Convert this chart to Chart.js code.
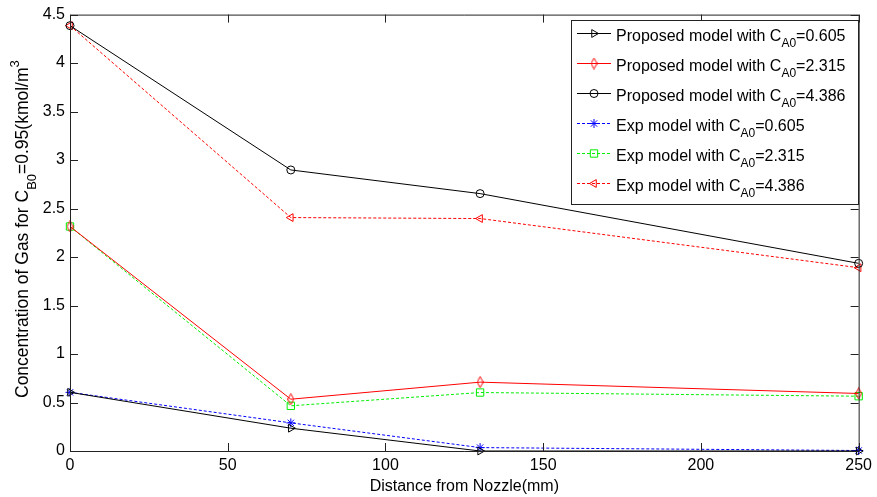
<!DOCTYPE html>
<html>
<head>
<meta charset="utf-8">
<title>Concentration of gas vs distance from nozzle</title>
<script src="https://cdn.jsdelivr.net/npm/chart.js@4.4.1/dist/chart.umd.min.js"></script>
<style>
  html, body { margin: 0; padding: 0; background: #fff; }
  #wrap { width: 877px; height: 497px; }
</style>
</head>
<body>
<div id="wrap"><canvas id="chart" width="877" height="497"></canvas></div>
<script>
// x positions (mm) and read-off concentrations per series
const distances = [0, 70, 130, 250];
const propLow = [0.605, 0.235, 0, 0];
const propMid = [2.315, 0.534, 0.71, 0.593];
const propHigh = [4.386, 2.898, 2.654, 1.935];
const expLow = [0.605, 0.29, 0.035, 0.005];
const expMid = [2.315, 0.466, 0.603, 0.565];
const expHigh = [4.386, 2.407, 2.397, 1.89];

const seriesLabels = [
    'Proposed model with C_{A0}=0.605',
    'Proposed model with C_{A0}=2.315',
    'Proposed model with C_{A0}=4.386',
    'Exp model with C_{A0}=0.605',
    'Exp model with C_{A0}=2.315',
    'Exp model with C_{A0}=4.386'
];
const yTitle = 'Concentration of Gas for C_{B0}=0.95(kmol/m^{3}';
const xTitle = 'Distance from Nozzle(mm)';

const FONT = '"Liberation Sans", Arial, sans-serif';

function toPoints(values) {
    return distances.map((d, i) => ({ x: d, y: values[i] }));
}

// narrow diamond like matlab's 'd' marker
function makeDiamond(color) {
    const c = document.createElement('canvas');
    c.width = 7; c.height = 12;
    const g = c.getContext('2d');
    g.strokeStyle = color;
    g.lineWidth = 1;
    g.beginPath();
    g.moveTo(3.5, 0.5); g.lineTo(6.5, 6); g.lineTo(3.5, 11.5); g.lineTo(0.5, 6);
    g.closePath();
    g.stroke();
    return c;
}

// split "C_{A0}" / "m^{3}" into normal, sub and sup runs
function splitRich(text) {
    const parts = [];
    const re = /([_^])\{([^}]*)\}/g;
    let last = 0, m;
    while ((m = re.exec(text))) {
        if (m.index > last) parts.push({ t: text.slice(last, m.index), kind: 'n' });
        parts.push({ t: m[2], kind: m[1] === '_' ? 'sub' : 'sup' });
        last = re.lastIndex;
    }
    if (last < text.length) parts.push({ t: text.slice(last), kind: 'n' });
    return parts;
}

function drawRich(ctx, text, x, y, size, smallSize, subShift, supShift) {
    let cx = x;
    for (const p of splitRich(text)) {
        const fs = p.kind === 'n' ? size : smallSize;
        ctx.font = `${fs}px ${FONT}`;
        let dy = 0;
        if (p.kind === 'sub') dy = subShift;
        if (p.kind === 'sup') dy = -supShift;
        ctx.fillText(p.t, cx, y + dy);
        cx += ctx.measureText(p.t).width;
    }
    return cx - x;
}

function line(label, data, color, dashed, style, radius, rotation) {
    return {
        label: label,
        data: toPoints(data),
        borderColor: color,
        backgroundColor: 'rgba(0,0,0,0)',
        borderWidth: 1,
        borderDash: dashed ? [3, 2] : [],
        tension: 0,
        pointStyle: style,
        pointRadius: radius,
        pointRotation: rotation || 0,
        pointBorderColor: color,
        pointBackgroundColor: 'rgba(0,0,0,0)',
        pointBorderWidth: 1,
        clip: false
    };
}

// matlab-style box with inward ticks on all four sides
const axesBox = {
    id: 'axesBox',
    afterDatasetsDraw(chart) {
        const { ctx, chartArea: a, scales: { x, y } } = chart;
        const tick = 8;
        ctx.save();
        ctx.strokeStyle = '#222';
        ctx.lineWidth = 1;
        ctx.setLineDash([]);
        ctx.beginPath();
        ctx.rect(a.left + 0.5, a.top + 0.5, a.right - a.left, a.bottom - a.top);
        x.ticks.forEach(t => {
            const px = Math.round(x.getPixelForValue(t.value)) + 0.5;
            ctx.moveTo(px, a.bottom); ctx.lineTo(px, a.bottom - tick);
            ctx.moveTo(px, a.top); ctx.lineTo(px, a.top + tick);
        });
        y.ticks.forEach(t => {
            const py = Math.round(y.getPixelForValue(t.value)) + 0.5;
            ctx.moveTo(a.left, py); ctx.lineTo(a.left + tick, py);
            ctx.moveTo(a.right, py); ctx.lineTo(a.right - tick, py);
        });
        ctx.stroke();
        ctx.restore();
    }
};

// y title with subscript / superscript
const yAxisTitle = {
    id: 'yAxisTitle',
    afterDraw(chart) {
        const ctx = chart.ctx;
        ctx.save();
        ctx.translate(28, 398);
        ctx.rotate(-Math.PI / 2);
        ctx.fillStyle = '#000';
        ctx.textAlign = 'left';
        ctx.textBaseline = 'alphabetic';
        drawRich(ctx, yTitle, 0, 0, 17.5, 13, 8, 9);
        ctx.restore();
    }
};

const boxLegend = {
    id: 'boxLegend',
    afterDraw(chart) {
        const ctx = chart.ctx;
        const left = 571, top = 20, w = 287, h = 184;
        ctx.save();
        ctx.fillStyle = '#fff';
        ctx.fillRect(left, top, w, h);
        ctx.strokeStyle = '#222';
        ctx.lineWidth = 1;
        ctx.strokeRect(left + 0.5, top + 0.5, w, h);
        chart.data.datasets.forEach((ds, i) => {
            const cy = 33.5 + i * 30;
            ctx.strokeStyle = ds.borderColor;
            ctx.setLineDash(ds.borderDash);
            ctx.beginPath();
            ctx.moveTo(577, cy); ctx.lineTo(611, cy);
            ctx.stroke();
            ctx.setLineDash([]);
            ctx.fillStyle = 'rgba(0,0,0,0)';
            Chart.helpers.drawPoint(ctx, {
                pointStyle: ds.pointStyle,
                rotation: ds.pointRotation,
                radius: ds.pointRadius,
                borderWidth: 1
            }, 594, cy);
            ctx.fillStyle = '#000';
            ctx.textAlign = 'left';
            ctx.textBaseline = 'alphabetic';
            drawRich(ctx, ds.label, 616, cy + 7, 16, 12, 6, 6);
        });
        ctx.restore();
    }
};

const ctx = document.getElementById('chart').getContext('2d');
new Chart(ctx, {
    type: 'line',
    data: {
        datasets: [
            line(seriesLabels[0], propLow, '#000000', false, 'triangle', 4.5, 90),
            line(seriesLabels[1], propMid, '#ff0000', false, makeDiamond('#ff0000'), 4),
            line(seriesLabels[2], propHigh, '#000000', false, 'circle', 4),
            line(seriesLabels[3], expLow, '#0000ff', true, 'star', 4.5),
            line(seriesLabels[4], expMid, '#00ee00', true, 'rect', 5.2),
            line(seriesLabels[5], expHigh, '#ff0000', true, 'triangle', 4.5, -90)
        ]
    },
    options: {
        responsive: false,
        animation: false,
        devicePixelRatio: 1,
        layout: { padding: { top: 13, right: 15, left: 0, bottom: 0 } },
        plugins: {
            legend: { display: false },
            tooltip: { enabled: false }
        },
        scales: {
            x: {
                type: 'linear',
                min: 0,
                max: 250,
                grid: { display: false, drawTicks: false },
                border: { display: false },
                ticks: { stepSize: 50, padding: 5, color: '#000', font: { size: 16, family: FONT } },
                title: {
                    display: true,
                    text: xTitle,
                    color: '#000',
                    font: { size: 16, family: FONT },
                    padding: { top: 0, bottom: 1 }
                },
                afterFit(s) { s.height = 46; }
            },
            y: {
                type: 'linear',
                min: 0,
                max: 4.5,
                grid: { display: false, drawTicks: false },
                border: { display: false },
                ticks: {
                    stepSize: 0.5,
                    padding: 5,
                    color: '#000',
                    font: { size: 16, family: FONT },
                    callback: (v) => String(Math.round(v * 10) / 10)
                },
                afterFit(s) { s.width = 70; }
            }
        }
    },
    plugins: [axesBox, yAxisTitle, boxLegend]
});
</script>
</body>
</html>
